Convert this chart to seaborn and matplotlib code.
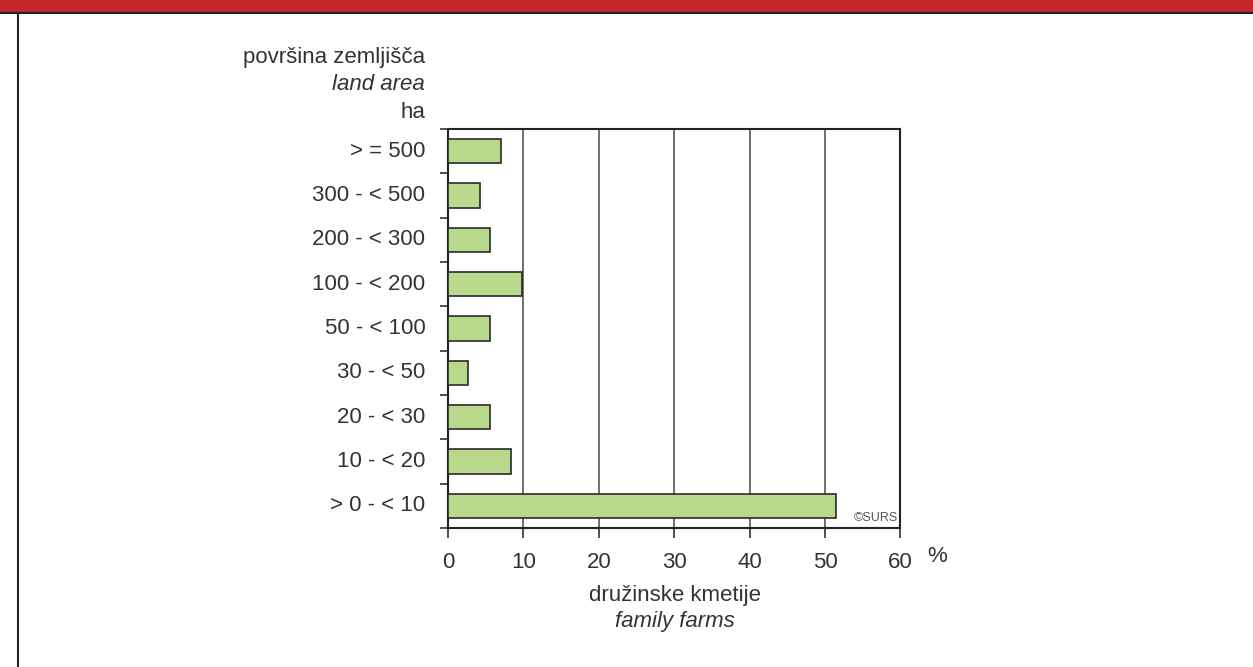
import matplotlib
matplotlib.use('Agg')
import matplotlib.pyplot as plt
import seaborn as sns
import pandas as pd

categories = ['> = 500', '300 - < 500', '200 - < 300', '100 - < 200', '50 - < 100',
              '30 - < 50', '20 - < 30', '10 - < 20', '> 0 - < 10']
shares = [7.0, 4.2, 5.6, 9.8, 5.6, 2.7, 5.6, 8.4, 51.4]
xticks = [0, 10, 20, 30, 40, 50, 60]

df = pd.DataFrame({'cat': categories, 'share': shares})

sns.set_theme(style='white')
plt.rcParams['font.family'] = ['Liberation Sans', 'DejaVu Sans']
txt = '#333333'
fs = 16

fig = plt.figure(figsize=(12.53, 6.67), dpi=100)
W, H = 1253, 667

# red band and frame lines
fig.patches.append(plt.Rectangle((0, 1 - 12 / H), 1, 12 / H, transform=fig.transFigure,
                                 color='#c1272d', zorder=0))
fig.add_artist(plt.Line2D([0, 1], [1 - 12.5 / H] * 2, color='#222222', lw=1.5))
fig.add_artist(plt.Line2D([17.5 / W] * 2, [0, 1 - 12.5 / H], color='#222222', lw=1.5))

ax = fig.add_axes([448 / W, 1 - 528 / H, (900.5 - 448) / W, (528 - 129) / H])
sns.barplot(data=df, x='share', y='cat', orient='h', color='#b8d98b', width=0.55,
            edgecolor='#2a2a2a', linewidth=1.2, saturation=1, ax=ax, zorder=3)

ax.set_xlim(0, 60)
ax.set_ylim(8.5, -0.5)
ax.set_xticks(xticks)
ax.set_xticklabels([str(t) for t in xticks], fontsize=fs, color=txt)
ax.set_yticks([])
ax.set_yticks([i - 0.5 for i in range(10)], minor=True)
ax.tick_params(axis='y', which='minor', left=True, length=6, width=1.2, color='#333333')
ax.tick_params(axis='x', bottom=True, length=7, width=1.2, color='#333333', pad=10)
for i, c in enumerate(categories):
    ax.text(-3.0, i, c, ha='right', va='center', fontsize=fs, color=txt)

for t in xticks[1:-1]:
    ax.axvline(t, color='#555555', lw=1.2, zorder=1)
for s in ax.spines.values():
    s.set_visible(True)
    s.set_color('#222222')
    s.set_linewidth(1.5)
ax.set_xlabel('')
ax.set_ylabel('')

ax.text(59.7, 8.35, '©SURS', ha='right', va='baseline', fontsize=9, color='#555555')

fig.text(425 / W, 1 - 57 / H, 'površina zemljišča', ha='right', va='center', fontsize=fs, color=txt)
fig.text(425 / W, 1 - 84 / H, 'land area', ha='right', va='center', fontsize=fs,
         color=txt, style='italic')
fig.text(425 / W, 1 - 112 / H, 'ha', ha='right', va='center', fontsize=fs, color=txt)
fig.text(937 / W, 1 - 557 / H, '%', ha='center', va='center', fontsize=fs, color=txt)
fig.text(675 / W, 1 - 595 / H, 'družinske kmetije', ha='center', va='center', fontsize=fs, color=txt)
fig.text(675 / W, 1 - 622 / H, 'family farms', ha='center', va='center', fontsize=fs,
         color=txt, style='italic')

fig.savefig('out.png', dpi=100)
